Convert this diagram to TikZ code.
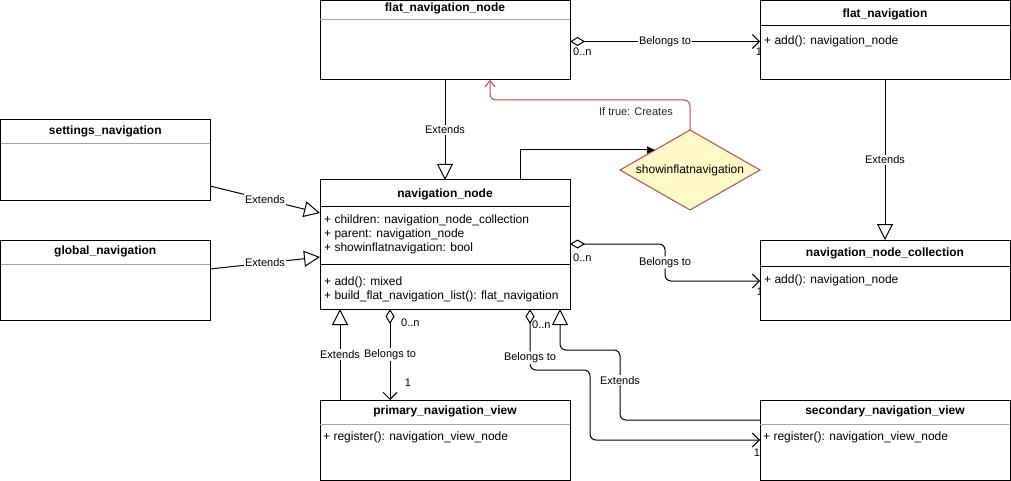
\documentclass[tikz,border=0pt]{standalone}
\usepackage{fontspec}
\setmainfont{Liberation Sans}
\usetikzlibrary{arrows.meta,shapes.geometric,calc}
\definecolor{divgray}{RGB}{165,165,165}
\definecolor{dred}{RGB}{190,70,70}
\definecolor{dfill}{RGB}{255,249,200}
\begin{document}
\begin{tikzpicture}[x=1pt,y=-1pt,
  classbox/.style={draw=black, fill=white, line width=1pt, inner sep=0pt, outer sep=0pt, anchor=north west},
  ctitle/.style={font=\fontsize{12}{14}\selectfont\bfseries, inner sep=0pt},
  member/.style={font=\fontsize{12}{14}\selectfont, inner sep=0pt, anchor=west},
  elabel/.style={font=\fontsize{11}{13}\selectfont, fill=white, inner sep=1pt},
  mult/.style={font=\fontsize{11}{13}\selectfont, inner sep=0pt},
  conn/.style={draw=black, line width=1pt},
  ext/.style={conn, -{Triangle[open, length=16pt, width=16pt, fill=white]}},
  assoc/.style={conn, {Diamond[open, length=15pt, width=9pt, fill=white]}-{Straight Barb[length=7pt, width=14pt]}},
  divline/.style={draw=divgray, line width=1pt},
  solidline/.style={draw=black, line width=1pt}
]
\useasboundingbox (0,0) rectangle (1011,481);

% multiplicities partly hidden behind boxes
\node[mult] (m1) at (759,52) {1};
\node[mult] (m2) at (760,292) {1};

% classes
\node[classbox, minimum width=250pt, minimum height=79.5pt] (fnn) at (320,0.5) {};
\draw[divline] ($(fnn.north west)+(0,19.5)$) -- ($(fnn.north east)+(0,19.5)$);
\node[ctitle] (fnnt) at ($(fnn.north)+(0,8)$) {flat\_navigation\_node};

\node[classbox, minimum width=250pt, minimum height=79.5pt] (fn) at (760,0.5) {};
\draw[solidline] ($(fn.north west)+(0,25.5)$) -- ($(fn.north east)+(0,25.5)$);
\node[ctitle] (fnt) at ($(fn.north)+(0,13.5)$) {flat\_navigation};
\node[member] (fnm) at ($(fn.north west)+(4,40.5)$) {+ add(): navigation\_node};

\node[classbox, minimum width=209.5pt, minimum height=80pt] (sn) at (0.5,120) {};
\draw[divline] ($(sn.north west)+(0,24)$) -- ($(sn.north east)+(0,24)$);
\node[ctitle] (snt) at ($(sn.north)+(0,11)$) {settings\_navigation};

\node[classbox, minimum width=209.5pt, minimum height=80pt] (gn) at (0.5,240) {};
\draw[divline] ($(gn.north west)+(0,24)$) -- ($(gn.north east)+(0,24)$);
\node[ctitle] (gnt) at ($(gn.north)+(0,11)$) {global\_navigation};

\node[classbox, minimum width=250pt, minimum height=129pt] (nn) at (320,180) {};
\draw[solidline] ($(nn.north west)+(0,26)$) -- ($(nn.north east)+(0,26)$);
\draw[solidline] ($(nn.north west)+(0,84)$) -- ($(nn.north east)+(0,84)$);
\node[ctitle] (nnt) at ($(nn.north)+(0,14)$) {navigation\_node};
\node[member] (nn1) at ($(nn.north west)+(4,40)$) {+ children: navigation\_node\_collection};
\node[member] (nn2) at ($(nn.north west)+(4,54)$) {+ parent: navigation\_node};
\node[member] (nn3) at ($(nn.north west)+(4,68)$) {+ showinflatnavigation: bool};
\node[member] (nn4) at ($(nn.north west)+(4,102)$) {+ add(): mixed};
\node[member] (nn5) at ($(nn.north west)+(4,116)$) {+ build\_flat\_navigation\_list(): flat\_navigation};

\node[classbox, minimum width=250pt, minimum height=80pt] (nnc) at (760,240) {};
\draw[solidline] ($(nnc.north west)+(0,26)$) -- ($(nnc.north east)+(0,26)$);
\node[ctitle] (nnct) at ($(nnc.north)+(0,13)$) {navigation\_node\_collection};
\node[member] (nncm) at ($(nnc.north west)+(4,40.5)$) {+ add(): navigation\_node};

\node[classbox, minimum width=250pt, minimum height=80pt] (pv) at (320,400) {};
\draw[divline] ($(pv.north west)+(0,24)$) -- ($(pv.north east)+(0,24)$);
\node[ctitle] (pvt) at ($(pv.north)+(0,11)$) {primary\_navigation\_view};
\node[member] (pvm) at ($(pv.north west)+(3,37)$) {+ register(): navigation\_view\_node};

\node[classbox, minimum width=250pt, minimum height=80pt] (sv) at (760,400) {};
\draw[divline] ($(sv.north west)+(0,24)$) -- ($(sv.north east)+(0,24)$);
\node[ctitle] (svt) at ($(sv.north)+(0,11)$) {secondary\_navigation\_view};
\node[member] (svm) at ($(sv.north west)+(3,37)$) {+ register(): navigation\_view\_node};

% decision
\node[diamond, draw=dred, fill=dfill, line width=1pt, minimum width=140pt, minimum height=80pt,
      inner sep=0pt, outer sep=0pt, aspect=1.75, font=\fontsize{12}{14}\selectfont] (dia) at (690,170) {showinflatnavigation};

% connectors
\draw[assoc] ($(fnn.north east)+(0,41)$) -- node[elabel] {Belongs to} ($(fn.north west)+(0,41)$);
\node[mult, anchor=west] (m3) at (573,52) {0..n};

\draw[ext] (fnn.south) -- node[elabel] {Extends} (nn.north);
\draw[ext] (fn.south) -- node[elabel] {Extends} (nnc.north);

\draw[ext] ($(sn.north east)+(0,66)$) -- node[elabel] {Extends} ($(nn.north west)+(0,33)$);
\draw[ext] ($(gn.north east)+(0,29)$) -- node[elabel] {Extends} ($(nn.north west)+(0,77)$);

\draw[assoc, rounded corners=6pt] ($(nn.north east)+(0,64)$) -- (665,244) -- node[elabel] {Belongs to} (665,281) -- ($(nnc.north west)+(0,41)$);
\node[mult, anchor=west] (m4) at (573,258) {0..n};

\draw[conn, -{Triangle[length=8pt, width=7pt]}] ($(nn.north west)+(200,0)$) |- (dia.north west);

\draw[draw=dred, line width=1pt, rounded corners=6pt, -{Straight Barb[length=6pt, width=10pt]}]
  (dia.north) |- (490,100) -- ($(fnn.south west)+(170,0)$);
\node[font=\fontsize{11}{13}\selectfont, text=black!85, inner sep=0pt] (lt) at (636,112) {If true: Creates};

\draw[ext] ($(pv.north west)+(20,0)$) -- node[elabel] {Extends} ($(nn.south west)+(20,0)$);

\draw[assoc] ($(nn.south west)+(70,0)$) -- node[elabel] {Belongs to} ($(pv.north west)+(70,0)$);
\node[mult, anchor=west] (m5) at (401,323) {0..n};
\node[mult] (m6) at (408,383) {1};

\draw[assoc, rounded corners=6pt] ($(nn.south west)+(210,0)$) -- node[elabel, pos=0.8] {Belongs to} (530,370) -- (590,370) -- (590,440) -- ($(sv.north west)+(0,40)$);
\node[mult, anchor=west] (m7) at (532,325) {0..n};
\node[mult] (m8) at (757,453) {1};

\draw[ext, rounded corners=6pt] ($(sv.north west)+(0,20)$) -- (620,420) -- node[elabel, pos=0.57] {Extends} (620,350) -- (560,350) -- ($(nn.south west)+(240,0)$);

\end{tikzpicture}
\end{document}
